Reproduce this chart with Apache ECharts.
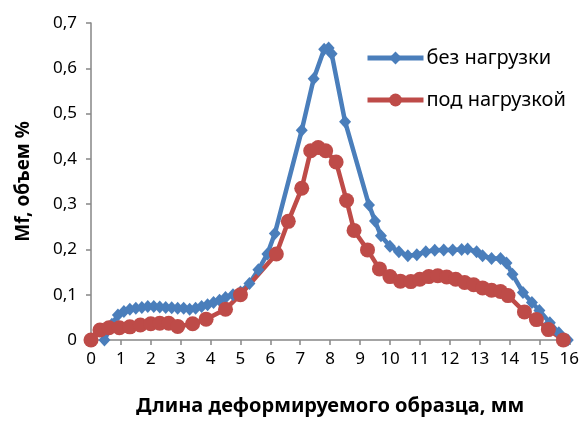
<!DOCTYPE html>
<html>
<head>
<meta charset="utf-8">
<script src="https://cdn.jsdelivr.net/npm/echarts@6/dist/echarts.min.js"></script>
<style>
  html, body { margin: 0; padding: 0; background: #fff; }
  #chart { width: 582px; height: 421px; }
</style>
</head>
<body>
<div id="chart"></div>
<script>
// Series names
const seriesNames = ['без нагрузки', 'под нагрузкой'];

// Position along the specimen, mm, and Mf volume fraction, % — unloaded
const xUnloaded = [0.45, 0.7, 0.9, 1.1, 1.3, 1.5, 1.7, 1.9, 2.1, 2.3, 2.5, 2.7, 2.9, 3.1, 3.3, 3.5, 3.7, 3.9, 4.1, 4.3, 4.5, 4.75, 5.0, 5.3, 5.6, 5.9, 6.15, 7.05, 7.45, 7.8, 7.95, 8.05, 8.5, 9.3, 9.5, 9.7, 10.0, 10.3, 10.6, 10.9, 11.2, 11.5, 11.8, 12.1, 12.4, 12.6, 12.9, 13.1, 13.4, 13.7, 13.9, 14.1, 14.45, 14.75, 15.0, 15.35, 15.65, 15.95];
const yUnloaded = [0.0, 0.035, 0.055, 0.063, 0.068, 0.07, 0.072, 0.074, 0.074, 0.073, 0.072, 0.071, 0.07, 0.07, 0.068, 0.07, 0.074, 0.078, 0.083, 0.088, 0.094, 0.1, 0.106, 0.125, 0.155, 0.19, 0.235, 0.463, 0.577, 0.642, 0.645, 0.632, 0.482, 0.298, 0.263, 0.23, 0.207, 0.195, 0.186, 0.188, 0.195, 0.198, 0.199, 0.199, 0.2, 0.201, 0.195, 0.186, 0.18, 0.18, 0.17, 0.145, 0.105, 0.083, 0.065, 0.038, 0.016, 0.0];

// Position along the specimen, mm, and Mf volume fraction, % — under load
const xLoaded = [0.0, 0.3, 0.6, 0.95, 1.3, 1.65, 2.0, 2.3, 2.6, 2.9, 3.4, 3.85, 4.5, 5.0, 6.2, 6.6, 7.05, 7.35, 7.6, 7.85, 8.2, 8.55, 8.8, 9.25, 9.65, 10.0, 10.35, 10.7, 11.0, 11.3, 11.6, 11.9, 12.2, 12.5, 12.8, 13.1, 13.4, 13.7, 13.95, 14.5, 14.9, 15.3, 15.8];
const yLoaded = [0.0, 0.022, 0.027, 0.027, 0.029, 0.033, 0.036, 0.037, 0.037, 0.03, 0.036, 0.046, 0.068, 0.1, 0.19, 0.262, 0.335, 0.418, 0.425, 0.418, 0.393, 0.308, 0.242, 0.199, 0.157, 0.14, 0.13, 0.129, 0.134, 0.14, 0.142, 0.139, 0.134, 0.127, 0.122, 0.115, 0.11, 0.107, 0.098, 0.062, 0.045, 0.023, 0.0];

// Axis titles
const xTitle = 'Длина деформируемого образца, мм';
const yTitle = 'Mf, объем %';

const pairs = (xs, ys) => xs.map((x, i) => [x, ys[i]]);

const axisGray = '#868686';
const blue = '#4a7ebb';
const red = '#be4b48';
const font = '"Noto Sans", "DejaVu Sans", sans-serif';

const chart = echarts.init(document.getElementById('chart'), null, { renderer: 'canvas' });
chart.setOption({
  animation: false,
  backgroundColor: '#ffffff',
  grid: { left: 91, right: 11, top: 23, bottom: 78, containLabel: false },
  legend: {
    orient: 'vertical',
    left: 360,
    top: 43,
    padding: 5,
    itemWidth: 56,
    itemHeight: 16,
    itemGap: 22,
    lineStyle: { width: 5 },
    textStyle: { fontFamily: font, fontSize: 20, color: '#000', padding: [0, 0, 0, -2] },
    data: seriesNames
  },
  xAxis: {
    type: 'value',
    min: 0,
    max: 16,
    interval: 1,
    name: xTitle,
    nameLocation: 'middle',
    nameGap: 56,
    nameTextStyle: { fontFamily: font, fontSize: 20, fontWeight: 'bold', color: '#000' },
    axisLine: { show: true, lineStyle: { color: axisGray, width: 1.5 } },
    axisTick: { show: true, length: 5, lineStyle: { color: axisGray, width: 1.5 } },
    axisLabel: { fontFamily: font, fontSize: 17, color: '#000', margin: 11 },
    splitLine: { show: false }
  },
  yAxis: {
    type: 'value',
    min: 0,
    max: 0.7,
    interval: 0.1,
    name: yTitle,
    nameLocation: 'middle',
    nameRotate: 90,
    nameGap: 58,
    nameTextStyle: { fontFamily: font, fontSize: 19, fontWeight: 'bold', color: '#000' },
    axisLine: { show: true, lineStyle: { color: axisGray, width: 1.5 } },
    axisTick: { show: true, length: 5, lineStyle: { color: axisGray, width: 1.5 } },
    axisLabel: {
      fontFamily: font, fontSize: 17, color: '#000', margin: 14,
      formatter: v => (Math.round(v * 10) / 10).toString().replace('.', ',')
    },
    splitLine: { show: false }
  },
  series: [
    {
      name: seriesNames[0],
      type: 'line',
      data: pairs(xUnloaded, yUnloaded),
      symbol: 'diamond',
      symbolSize: [12, 13],
      lineStyle: { color: blue, width: 4.5 },
      itemStyle: { color: blue }
    },
    {
      name: seriesNames[1],
      type: 'line',
      data: pairs(xLoaded, yLoaded),
      symbol: 'circle',
      symbolSize: 15,
      lineStyle: { color: red, width: 4.5 },
      itemStyle: { color: red }
    }
  ]
});
</script>
</body>
</html>
